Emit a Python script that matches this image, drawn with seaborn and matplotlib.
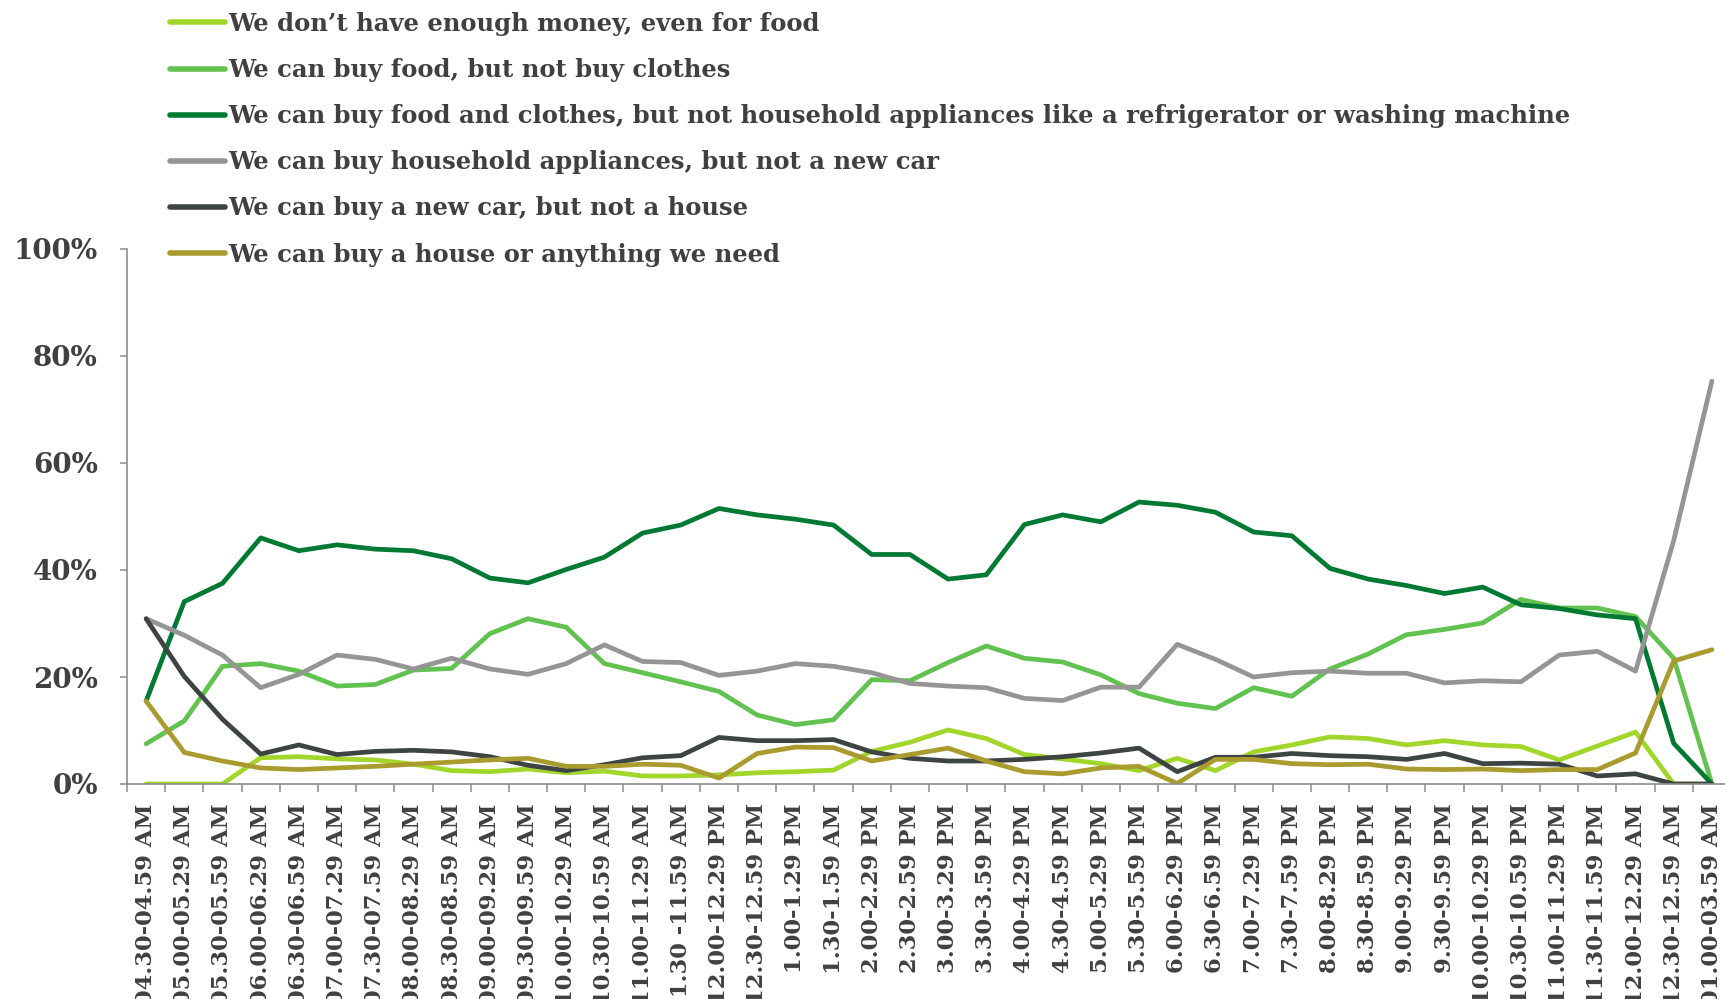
import matplotlib
matplotlib.use("Agg")
import matplotlib.pyplot as plt
from matplotlib.lines import Line2D
from matplotlib.ticker import FixedLocator
import numpy as np
import pandas as pd
import seaborn as sns

# Half-hour survey slots
time_slots = [
    "04.30-04.59 AM", "05.00-05.29 AM", "05.30-05.59 AM", "06.00-06.29 AM",
    "06.30-06.59 AM", "07.00-07.29 AM", "07.30-07.59 AM", "08.00-08.29 AM",
    "08.30-08.59 AM", "09.00-09.29 AM", "09.30-09.59 AM", "10.00-10.29 AM",
    "10.30-10.59 AM", "11.00-11.29 AM", "11.30 -11.59 AM", "12.00-12.29 PM",
    "12.30-12.59 PM", "1.00-1.29 PM", "1.30-1.59 AM", "2.00-2.29 PM",
    "2.30-2.59 PM", "3.00-3.29 PM", "3.30-3.59 PM", "4.00-4.29 PM",
    "4.30-4.59 PM", "5.00-5.29 PM", "5.30-5.59 PM", "6.00-6.29 PM",
    "6.30-6.59 PM", "7.00-7.29 PM", "7.30-7.59 PM", "8.00-8.29 PM",
    "8.30-8.59 PM", "9.00-9.29 PM", "9.30-9.59 PM", "10.00-10.29 PM",
    "10.30-10.59 PM", "11.00-11.29 PM", "11.30-11.59 PM", "12.00-12.29 AM",
    "12.30-12.59 AM", "01.00-03.59 AM",
]

# Share of respondents (%) per slot
not_enough_for_food = [
    0, 0, 0, 4.9, 5.1, 4.7, 4.5, 3.7, 2.5, 2.3, 2.8, 2.1, 2.4, 1.5, 1.5,
    1.7, 2.1, 2.3, 2.6, 6.1, 7.8, 10.1, 8.5, 5.5, 4.7, 3.8, 2.5, 4.8, 2.5,
    6.0, 7.3, 8.8, 8.5, 7.3, 8.1, 7.3, 7.0, 4.5, 7.1, 9.7, 0, 0,
]
food_not_clothes = [
    7.5, 11.8, 22.0, 22.5, 21.1, 18.3, 18.6, 21.3, 21.6, 28.1, 30.9, 29.3,
    22.5, 20.8, 19.1, 17.3, 12.9, 11.1, 12.0, 19.5, 19.3, 22.7, 25.8, 23.5,
    22.8, 20.4, 16.9, 15.1, 14.1, 18.0, 16.4, 21.5, 24.3, 27.9, 28.9, 30.1,
    34.5, 32.9, 32.9, 31.3, 23.5, 0,
]
food_clothes_not_appliances = [
    15.5, 34.1, 37.5, 46.0, 43.6, 44.7, 43.9, 43.6, 42.1, 38.5, 37.6, 40.1,
    42.4, 46.9, 48.4, 51.5, 50.3, 49.5, 48.4, 42.9, 42.9, 38.3, 39.1, 48.5,
    50.3, 49.0, 52.7, 52.1, 50.8, 47.1, 46.4, 40.3, 38.3, 37.1, 35.6, 36.8,
    33.5, 32.8, 31.6, 30.9, 7.6, 0,
]
appliances_not_car = [
    30.9, 27.8, 24.1, 18.0, 20.5, 24.1, 23.3, 21.5, 23.5, 21.5, 20.5, 22.5,
    26.0, 22.9, 22.7, 20.3, 21.1, 22.5, 22.0, 20.8, 18.8, 18.3, 18.0, 16.0,
    15.6, 18.1, 18.1, 26.1, 23.3, 20.0, 20.8, 21.1, 20.7, 20.7, 18.9, 19.3,
    19.1, 24.1, 24.8, 21.1, 45.5, 75.3,
]
car_not_house = [
    30.9, 20.1, 12.1, 5.6, 7.3, 5.5, 6.1, 6.3, 6.0, 5.1, 3.5, 2.5, 3.6, 4.9,
    5.3, 8.7, 8.1, 8.1, 8.3, 6.0, 4.8, 4.3, 4.3, 4.6, 5.1, 5.8, 6.7, 2.3,
    5.0, 5.0, 5.7, 5.3, 5.1, 4.6, 5.7, 3.8, 3.9, 3.7, 1.5, 1.9, 0, 0,
]
house_or_anything = [
    15.5, 5.9, 4.3, 3.0, 2.7, 3.0, 3.3, 3.7, 4.1, 4.5, 4.8, 3.3, 3.3, 3.7,
    3.5, 1.1, 5.7, 6.9, 6.8, 4.3, 5.5, 6.7, 4.3, 2.3, 1.9, 3.0, 3.3, 0.1,
    4.6, 4.6, 3.8, 3.6, 3.7, 2.8, 2.7, 2.8, 2.5, 2.7, 2.7, 5.8, 23.0, 25.1,
]

series_labels = [
    "We don\u2019t have enough money, even for food",
    "We can buy food, but not buy clothes",
    "We can buy food and clothes, but not household appliances like a refrigerator or washing machine",
    "We can buy household appliances, but not a new car",
    "We can buy a new car, but not a house",
    "We can buy a house or anything we need",
]
series_values = [
    not_enough_for_food, food_not_clothes, food_clothes_not_appliances,
    appliances_not_car, car_not_house, house_or_anything,
]
series_colors = ["#a2d62b", "#61c250", "#007a33", "#959595", "#3e4343", "#a99b2d"]

frames = []
for label, vals in zip(series_labels, series_values):
    frames.append(pd.DataFrame({"slot": np.arange(len(time_slots)),
                                "share": vals, "series": label}))
df = pd.concat(frames, ignore_index=True)

sns.set_theme(style="white")
plt.rcParams["font.family"] = ["DejaVu Serif"]
text_color = "#404040"
axis_color = "#8c8c8c"

W, H = 1725, 999
fig = plt.figure(figsize=(W / 100, H / 100), dpi=100)
ax = fig.add_axes([127 / W, 1 - 784 / H, (1731 - 127) / W, (784 - 249) / H])

sns.lineplot(data=df, x="slot", y="share", hue="series",
             hue_order=series_labels, palette=series_colors,
             linewidth=3.4, sort=False, legend=False, ax=ax)

ax.set_xlim(-0.5, len(time_slots) - 0.5)
ax.set_ylim(0, 100)
ax.set_xlabel("")
ax.set_ylabel("")

# Y axis
ax.set_yticks([0, 20, 40, 60, 80, 100])
ax.set_yticklabels([f"{v}%" for v in [0, 20, 40, 60, 80, 100]],
                   fontsize=20, fontweight="bold", color=text_color)
ax.tick_params(axis="y", length=5, width=1.1, color=axis_color, pad=16, left=True)

# X axis: labels on categories, tick marks on category boundaries
ax.set_xticks(np.arange(len(time_slots)))
ax.set_xticklabels(time_slots, rotation=90, fontsize=16.3, fontweight="bold",
                   color=text_color, va="top", ha="center")
ax.xaxis.set_minor_locator(FixedLocator(np.arange(-0.5, len(time_slots), 1.0)))
ax.tick_params(axis="x", which="major", length=0, pad=14)
ax.tick_params(axis="x", which="minor", length=6, width=1.1, color=axis_color,
               bottom=True)

for side in ["top", "right"]:
    ax.spines[side].set_visible(False)
for side in ["left", "bottom"]:
    ax.spines[side].set_color(axis_color)
    ax.spines[side].set_linewidth(1.2)

handles = [Line2D([0], [0], color=c, linewidth=4) for c in series_colors]
leg = fig.legend(handles, series_labels, loc="upper left",
                 bbox_to_anchor=(170 / W, 1 - 12 / H), frameon=False,
                 borderpad=0, borderaxespad=0, handlelength=2.25,
                 handletextpad=0.15, labelspacing=0.91,
                 prop={"family": "DejaVu Serif", "weight": "bold", "size": 17.5})
for t in leg.get_texts():
    t.set_color(text_color)

fig.savefig("out.png", dpi=100)
